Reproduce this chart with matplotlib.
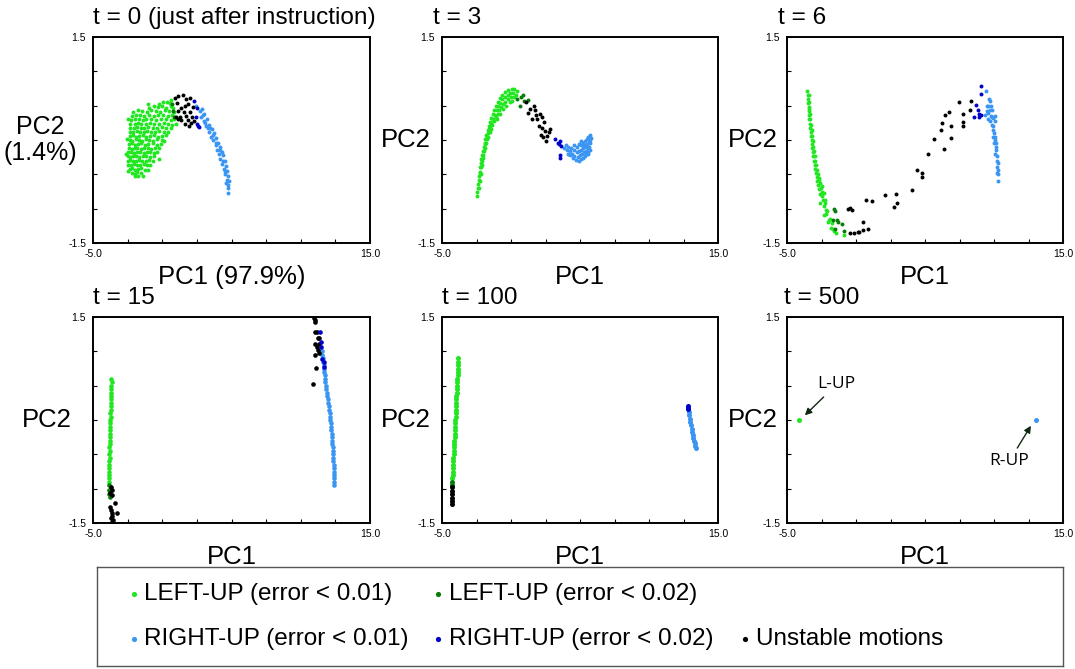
import matplotlib
matplotlib.use('Agg')
import matplotlib.pyplot as plt

plt.rcParams['font.family'] = ['Liberation Sans', 'DejaVu Sans']

LG = '#22e622'   # LEFT-UP (error < 0.01)
DG = '#0a7a0a'   # LEFT-UP (error < 0.02)
LB = '#3a96f2'   # RIGHT-UP (error < 0.01)
DB = '#0000c8'   # RIGHT-UP (error < 0.02)
K = 'black'      # unstable

titles = ['t = 0 (just after instruction)', 't = 3', 't = 6', 't = 15', 't = 100', 't = 500']
x_ticks = [-5, -2.5, 0, 2.5, 5, 7.5, 10, 12.5, 15]
x_ticklabels = ['-5.0', '', '', '', '', '', '', '', '15.0']
y_ticks = [-1.5, -1.0, -0.5, 0, 0.5, 1.0, 1.5]
y_ticklabels = ['-1.5', '', '', '', '', '', '1.5']

# ---- t = 0 ----
p1_lg = [(-0.25, 0.53), (0.05, 0.55), (0.32, 0.56), (0.55, 0.54),
         (-0.95, 0.47), (-0.6, 0.49), (-0.3, 0.48), (0.0, 0.49), (0.3, 0.47), (0.6, 0.5), (0.8, 0.46),
         (-2.1, 0.41), (-1.75, 0.43), (-1.45, 0.42), (-1.1, 0.41), (-0.8, 0.43), (-0.45, 0.42), (-0.15, 0.41), (0.2, 0.43), (0.5, 0.42), (0.85, 0.41),
         (-2.2, 0.35), (-1.9, 0.37), (-1.6, 0.36), (-1.3, 0.35), (-0.95, 0.37), (-0.6, 0.35), (-0.3, 0.36), (0.05, 0.37), (0.4, 0.35), (0.7, 0.36), (0.95, 0.34),
         (-2.25, 0.29), (-1.95, 0.31), (-1.7, 0.3), (-1.4, 0.29), (-1.15, 0.31), (-0.8, 0.3), (-0.45, 0.29), (-0.1, 0.31), (0.25, 0.3), (0.6, 0.29), (0.85, 0.3),
         (-2.3, 0.24), (-2.0, 0.23), (-1.75, 0.25), (-1.5, 0.24), (-1.2, 0.23), (-0.9, 0.25), (-0.6, 0.24), (-0.25, 0.23), (0.1, 0.25), (0.45, 0.24), (0.7, 0.22),
         (-2.3, 0.18), (-2.05, 0.17), (-1.8, 0.19), (-1.55, 0.18), (-1.3, 0.17), (-1.0, 0.19), (-0.7, 0.18), (-0.4, 0.17), (-0.05, 0.19), (0.3, 0.17), (0.6, 0.18),
         (-2.3, 0.12), (-2.1, 0.11), (-1.85, 0.13), (-1.6, 0.12), (-1.35, 0.11), (-1.1, 0.13), (-0.8, 0.12), (-0.5, 0.11), (-0.2, 0.13), (0.15, 0.12), (0.45, 0.11),
         (-2.35, 0.06), (-2.1, 0.07), (-1.9, 0.05), (-1.65, 0.06), (-1.4, 0.07), (-1.15, 0.05), (-0.9, 0.06), (-0.6, 0.07), (-0.3, 0.05), (0.0, 0.06), (0.3, 0.07),
         (-2.35, 0.0), (-2.15, -0.01), (-1.9, 0.01), (-1.7, 0.0), (-1.45, -0.01), (-1.2, 0.01), (-0.95, 0.0), (-0.65, -0.01), (-0.35, 0.01), (-0.05, 0.0), (0.1, -0.02),
         (-2.4, -0.06), (-2.2, -0.05), (-1.95, -0.07), (-1.75, -0.06), (-1.5, -0.05), (-1.25, -0.07), (-1.0, -0.06), (-0.7, -0.05), (-0.4, -0.07), (-0.1, -0.06),
         (-2.4, -0.12), (-2.2, -0.13), (-2.0, -0.11), (-1.8, -0.12), (-1.55, -0.13), (-1.3, -0.11), (-1.05, -0.12), (-0.8, -0.13), (-0.5, -0.11), (-0.25, -0.12),
         (-2.45, -0.18), (-2.25, -0.17), (-2.05, -0.19), (-1.85, -0.18), (-1.6, -0.17), (-1.35, -0.19), (-1.1, -0.18), (-0.85, -0.17), (-0.6, -0.19), (-0.4, -0.18),
         (-2.5, -0.24), (-2.3, -0.25), (-2.1, -0.23), (-1.9, -0.24), (-1.65, -0.25), (-1.4, -0.23), (-1.15, -0.24), (-0.9, -0.25), (-0.6, -0.23),
         (-2.5, -0.3), (-2.3, -0.29), (-2.1, -0.31), (-1.9, -0.3), (-1.7, -0.29), (-1.45, -0.31), (-1.2, -0.3), (-0.95, -0.29), (-0.7, -0.31),
         (-2.45, -0.36), (-2.25, -0.37), (-2.05, -0.35), (-1.85, -0.36), (-1.6, -0.37), (-1.35, -0.35), (-1.1, -0.36), (-0.9, -0.37),
         (-2.35, -0.42), (-2.15, -0.41), (-1.95, -0.43), (-1.75, -0.42), (-1.5, -0.41), (-1.25, -0.43),
         (-2.2, -0.48), (-2.0, -0.49), (-1.8, -0.47), (-1.55, -0.48), (-2.0, -0.53), (-1.75, -0.52),
         (-2.55, 0.02), (-2.6, -0.2), (-2.5, 0.3), (-1.05, 0.52), (0.65, 0.58), (1.0, 0.24), (-0.2, -0.27),
         (-1.05, -0.44), (-2.45, -0.45), (-1.4, -0.52)]
p1_dg = [(0.7, 0.52), (0.75, 0.42), (0.85, 0.33)]
p1_k = [(0.92, 0.61), (1.14, 0.64), (1.5, 0.66), (1.71, 0.6), (2.0, 0.61), (1.06, 0.54), (1.64, 0.5),
        (1.86, 0.52), (1.35, 0.47), (2.22, 0.48), (1.14, 0.42), (1.57, 0.41), (2.0, 0.41), (0.99, 0.33),
        (1.28, 0.33), (1.71, 0.35), (2.15, 0.33), (1.35, 0.29), (1.86, 0.29), (2.29, 0.28), (1.64, 0.23),
        (1.93, 0.2), (1.14, 0.31), (2.08, 0.25)]
p1_db = [(2.29, 0.57), (2.49, 0.46), (2.44, 0.34), (2.53, 0.23), (2.67, 0.19), (2.6, 0.21)]
p1_lb = [(2.45, 0.49), (2.7, 0.42), (2.85, 0.45), (3.05, 0.38), (2.8, 0.33), (3.0, 0.28), (3.2, 0.3),
         (3.15, 0.2), (3.35, 0.22), (3.4, 0.12), (3.6, 0.16), (3.55, 0.05), (3.75, 0.1), (3.7, 0.0),
         (3.9, 0.03), (3.85, -0.08), (4.05, -0.05), (3.95, -0.15), (4.15, -0.1), (4.1, -0.2), (4.3, -0.18),
         (4.2, -0.28), (4.4, -0.22), (4.3, -0.35), (4.5, -0.3), (4.45, -0.42), (4.6, -0.38), (4.55, -0.5),
         (4.7, -0.45), (4.65, -0.58), (4.75, -0.52), (4.6, -0.62), (4.72, -0.65), (4.8, -0.6), (4.75, -0.7),
         (4.76, -0.77), (3.3, 0.18), (3.65, 0.08), (3.9, -0.05), (4.2, -0.15), (4.4, -0.3), (4.55, -0.45),
         (3.1, 0.25), (3.45, 0.17), (2.95, 0.36)]

# ---- t = 3 ----
p2_lg = [(-2.46, -0.82), (-2.44, -0.76), (-2.4, -0.7), (-2.37, -0.64), (-2.33, -0.58), (-2.3, -0.52),
         (-2.26, -0.46), (-2.22, -0.4), (-2.18, -0.34), (-2.14, -0.28), (-2.08, -0.22), (-2.03, -0.16),
         (-1.97, -0.1), (-1.92, -0.04), (-1.85, 0.02), (-1.78, 0.08), (-1.7, 0.14), (-1.62, 0.2),
         (-1.52, 0.26), (-1.42, 0.32), (-1.32, 0.38), (-1.2, 0.44), (-1.08, 0.5), (-0.95, 0.56),
         (-0.8, 0.61), (-0.62, 0.66), (-0.42, 0.7), (-0.2, 0.73), (0.05, 0.75), (0.25, 0.74), (0.45, 0.71),
         (-2.22, -0.48), (-2.15, -0.4), (-2.08, -0.3), (-2.0, -0.22), (-1.9, -0.12), (-1.82, -0.04),
         (-1.72, 0.04), (-1.62, 0.12), (-1.52, 0.18), (-1.42, 0.25), (-1.3, 0.3), (-1.18, 0.37),
         (-1.05, 0.43), (-0.92, 0.49), (-0.78, 0.54), (-0.62, 0.59), (-0.45, 0.63), (-0.25, 0.66),
         (-0.05, 0.68), (0.15, 0.69), (0.35, 0.66),
         (-1.65, 0.05), (-1.55, 0.12), (-1.45, 0.16), (-1.35, 0.22), (-1.2, 0.28), (-1.1, 0.33),
         (-0.95, 0.38), (-0.85, 0.44), (-0.7, 0.48), (-0.55, 0.53), (-0.4, 0.56), (-0.2, 0.6), (0.0, 0.62),
         (0.2, 0.63), (-0.6, 0.45), (-0.35, 0.5), (-0.1, 0.55), (0.1, 0.57), (-1.0, 0.3), (-0.8, 0.38),
         (-2.35, -0.7), (-2.28, -0.6), (-2.2, -0.5), (-2.12, -0.36), (-2.05, -0.26), (-1.96, -0.16),
         (-1.87, -0.06), (-1.77, 0.02), (-1.67, 0.1), (-1.57, 0.16), (-1.47, 0.22)]
p2_dg = [(0.45, 0.6), (0.7, 0.62), (0.68, 0.5), (0.95, 0.57), (1.25, 0.58), (0.85, 0.66)]
p2_k = [(1.11, 0.56), (1.21, 0.4), (1.4, 0.45), (1.64, 0.49), (1.76, 0.43), (1.52, 0.3), (1.88, 0.3),
        (2.13, 0.38), (2.25, 0.33), (2.0, 0.21), (2.25, 0.18), (2.37, 0.26), (2.49, 0.13), (2.17, 0.07),
        (2.32, 0.04), (2.61, 0.06), (2.73, 0.11), (2.56, -0.01), (2.85, 0.16), (1.81, 0.36)]
p2_db = [(3.21, 0.01), (3.38, -0.04), (3.57, -0.01), (3.45, -0.06), (3.62, -0.09), (3.57, -0.22), (3.53, -0.26)]
p2_lb = [(3.85, -0.12), (3.95, -0.08), (4.05, -0.14), (4.15, -0.1), (4.1, -0.2), (4.25, -0.16), (4.35, -0.12),
         (4.3, -0.22), (4.45, -0.2), (4.5, -0.26), (4.6, -0.14), (4.6, -0.24), (4.7, -0.29), (4.75, -0.18),
         (4.8, -0.1), (4.85, -0.25), (4.9, -0.3), (4.95, -0.16), (5.0, -0.22), (5.05, -0.08), (5.05, -0.28),
         (5.1, -0.14), (5.15, -0.2), (5.2, -0.26), (5.2, -0.05), (5.25, -0.12), (5.3, -0.18), (5.35, -0.02),
         (5.35, -0.24), (5.4, -0.1), (5.45, -0.16), (5.5, 0.02), (5.5, -0.06), (5.55, -0.12), (5.55, -0.2),
         (5.6, 0.05), (5.65, -0.02), (5.65, -0.1), (5.7, 0.08), (5.7, -0.05), (5.75, 0.0), (5.8, 0.03),
         (5.75, -0.15), (5.6, -0.17), (5.4, -0.2), (5.3, -0.08), (5.1, -0.02), (4.9, -0.06), (4.55, -0.08)]

# ---- t = 6 ----
p3_lg = [(-3.52, 0.72), (-3.5, 0.66), (-3.48, 0.6), (-3.46, 0.54), (-3.44, 0.48), (-3.42, 0.42), (-3.4, 0.36),
         (-3.37, 0.3), (-3.34, 0.24), (-3.31, 0.18), (-3.28, 0.12), (-3.25, 0.06), (-3.22, 0.0), (-3.19, -0.06),
         (-3.16, -0.12), (-3.13, -0.18), (-3.09, -0.24), (-3.05, -0.3), (-3.0, -0.36), (-2.96, -0.42),
         (-2.91, -0.48), (-2.86, -0.54), (-2.8, -0.6), (-2.74, -0.66), (-2.67, -0.72), (-2.6, -0.78),
         (-3.42, 0.65), (-3.4, 0.55), (-3.37, 0.45), (-3.33, 0.38), (-3.3, 0.3), (-3.26, 0.22), (-3.22, 0.14),
         (-3.18, 0.06), (-3.14, -0.02), (-3.1, -0.1), (-3.05, -0.16), (-3.0, -0.24), (-2.95, -0.3),
         (-2.88, -0.36), (-2.82, -0.44), (-2.75, -0.5), (-2.68, -0.56), (-2.6, -0.62), (-2.52, -0.7),
         (-2.45, -0.76), (-2.71, -0.58), (-2.47, -0.67), (-2.35, -0.77), (-2.23, -0.87), (-2.59, -0.92),
         (-2.3, -0.96), (-2.11, -1.04), (-2.35, -1.09), (-1.99, -1.16), (-1.75, -1.21), (-1.82, -1.28),
         (-1.67, -1.3), (-0.85, -1.38), (-2.5, -0.82), (-2.4, -0.88), (-2.25, -0.92), (-2.2, -1.02),
         (-2.15, -1.08), (-1.9, -1.15), (-2.0, -1.2), (-1.6, -1.33), (-1.45, -1.36)]
p3_dg = [(-1.58, -1.0), (-1.51, -1.04), (-1.67, -1.16), (-1.39, -1.17), (-1.34, -1.2), (-1.02, -1.23),
         (-0.9, -1.33), (-1.51, -1.3)]
p3_k = [(-0.61, -1.0), (-0.42, -0.99), (-0.3, -1.02), (-0.42, -1.35), (-0.18, -1.36), (0.11, -1.34),
        (0.23, -1.34), (0.54, -1.31), (0.9, -1.3), (0.54, -1.2), (0.74, -0.88), (1.19, -0.89), (2.09, -0.8),
        (2.9, -0.78), (2.76, -0.97), (2.95, -0.92), (4.09, -0.73), (4.45, -0.43), (4.81, -0.48),
        (4.81, -0.54), (5.24, -0.21), (5.65, 0.02), (6.4, -0.13), (6.13, 0.14), (6.88, 0.03), (6.21, 0.25),
        (6.88, 0.2), (6.47, 0.37), (6.76, 0.41), (7.72, 0.2), (7.77, 0.26), (7.48, 0.56), (8.35, 0.57),
        (8.26, 0.43), (7.77, 0.38)]
p3_db = [(9.05, 0.79), (9.07, 0.67), (8.69, 0.51), (8.86, 0.43), (8.93, 0.38), (8.91, 0.34), (8.57, 0.34), (9.03, 0.37)]
p3_lb = [(9.41, 0.72), (9.65, 0.6), (9.7, 0.57), (9.34, 0.37), (9.46, 0.49), (9.58, 0.39), (9.7, 0.44),
         (9.82, 0.34), (9.94, 0.32), (10.06, 0.27), (9.89, 0.44), (9.94, 0.15), (10.06, 0.05), (10.13, -0.04),
         (10.18, -0.14), (10.23, -0.24), (10.26, -0.33), (10.28, -0.43), (10.3, -0.5), (10.3, -0.59),
         (9.55, 0.3), (9.7, 0.28), (9.85, 0.22), (9.95, 0.2), (10.0, 0.1), (9.9, 0.05), (10.1, 0.0),
         (10.0, -0.05), (10.15, -0.1), (10.1, -0.2), (10.2, -0.3), (10.2, -0.4), (10.25, -0.48),
         (9.6, 0.5), (9.8, 0.5), (9.5, 0.42), (9.75, 0.35), (10.05, 0.35)]

# ---- t = 15 ----
p4_lg = [(-3.68, 0.6), (-3.66, 0.55), (-3.69, 0.5), (-3.67, 0.45), (-3.7, 0.4), (-3.68, 0.35), (-3.71, 0.3),
         (-3.69, 0.25), (-3.73, 0.2), (-3.71, 0.15), (-3.74, 0.1), (-3.72, 0.05), (-3.76, 0.0), (-3.74, -0.05),
         (-3.77, -0.1), (-3.75, -0.15), (-3.78, -0.2), (-3.76, -0.25), (-3.8, -0.3), (-3.78, -0.35),
         (-3.81, -0.4), (-3.79, -0.45), (-3.82, -0.5), (-3.8, -0.55), (-3.83, -0.6), (-3.81, -0.65),
         (-3.84, -0.7), (-3.82, -0.75), (-3.85, -0.8), (-3.83, -0.85), (-3.85, -0.9)]
p4_dg = [(-3.83, -0.95), (-3.82, -1.02), (-3.84, -1.08), (-3.8, -1.12)]
p4_k = [(-3.68, -0.98), (-3.61, -1.02), (-3.75, -1.06), (-3.66, -1.09), (-3.44, -1.21), (-3.75, -1.26),
        (-3.61, -1.35), (-3.28, -1.35), (-3.63, -1.4), (-3.68, -1.43), (-3.56, -1.45), (-3.61, -1.48),
        (-3.73, -1.31), (10.93, 1.48), (11.05, 1.45), (11.0, 1.43), (11.17, 1.28), (11.0, 1.28),
        (11.24, 1.19), (11.33, 1.2), (11.29, 1.11), (11.05, 1.11), (11.0, 0.94), (11.29, 0.97),
        (11.09, 0.76), (10.88, 0.52), (11.14, 1.06), (11.24, 1.02)]
p4_db = [(11.36, 1.28), (11.45, 1.14), (11.45, 1.06), (11.53, 0.89), (11.65, 0.85), (11.67, 0.77)]
p4_lb = [(11.53, 1.0), (11.55, 0.95), (11.58, 0.9), (11.62, 0.85), (11.65, 0.8), (11.68, 0.75), (11.7, 0.7),
         (11.73, 0.65), (11.75, 0.6), (11.78, 0.55), (11.8, 0.5), (11.84, 0.45), (11.88, 0.4), (11.92, 0.35),
         (11.96, 0.3), (12.0, 0.25), (12.03, 0.2), (12.06, 0.15), (12.09, 0.1), (12.11, 0.05), (12.13, 0.0),
         (12.16, -0.05), (12.19, -0.1), (12.21, -0.15), (12.23, -0.2), (12.25, -0.25), (12.27, -0.3),
         (12.29, -0.35), (12.31, -0.4), (12.33, -0.45), (12.34, -0.5), (12.35, -0.55), (12.36, -0.6),
         (12.37, -0.65), (12.38, -0.7), (12.39, -0.75), (12.4, -0.8), (12.4, -0.85), (12.41, -0.9), (12.41, -0.94)]

# ---- t = 100 ----
p5_lg = [(-3.81, 0.9), (-3.82, 0.85), (-3.83, 0.8), (-3.85, 0.75), (-3.86, 0.7), (-3.87, 0.65), (-3.88, 0.6),
         (-3.9, 0.55), (-3.91, 0.5), (-3.92, 0.45), (-3.93, 0.4), (-3.95, 0.35), (-3.96, 0.3), (-3.97, 0.25),
         (-3.98, 0.2), (-4.0, 0.15), (-4.01, 0.1), (-4.02, 0.05), (-4.03, 0.0), (-4.05, -0.05), (-4.06, -0.1),
         (-4.07, -0.15), (-4.08, -0.2), (-4.09, -0.25), (-4.1, -0.3), (-4.12, -0.35), (-4.13, -0.4),
         (-4.14, -0.45), (-4.15, -0.5), (-4.17, -0.55), (-4.18, -0.6), (-4.19, -0.65), (-4.2, -0.7),
         (-4.22, -0.75), (-4.23, -0.8), (-4.24, -0.85)]
p5_dg = [(-4.25, -0.9), (-4.26, -0.94)]
p5_k = [(-4.26, -0.98), (-4.27, -1.03), (-4.28, -1.08), (-4.28, -1.13), (-4.29, -1.18), (-4.29, -1.23)]
p5_db = [(12.8, 0.2), (12.84, 0.18), (12.86, 0.16)]
p5_lb = [(12.88, 0.12), (12.92, 0.07), (12.96, 0.02), (13.0, -0.03), (13.04, -0.08), (13.08, -0.13),
         (13.12, -0.18), (13.16, -0.22), (13.2, -0.26), (13.25, -0.3), (13.3, -0.34), (13.35, -0.38), (13.42, -0.41)]

# ---- t = 500 ----
p6_lg = [(-4.11, 0.0)]
p6_lb = [(13.03, 0.0)]

panels = [
    [(p1_lg, LG), (p1_lb, LB), (p1_dg, DG), (p1_k, K), (p1_db, DB)],
    [(p2_lg, LG), (p2_lb, LB), (p2_dg, DG), (p2_k, K), (p2_db, DB)],
    [(p3_lg, LG), (p3_lb, LB), (p3_dg, DG), (p3_k, K), (p3_db, DB)],
    [(p4_lg, LG), (p4_lb, LB), (p4_dg, DG), (p4_k, K), (p4_db, DB)],
    [(p5_lg, LG), (p5_lb, LB), (p5_dg, DG), (p5_k, K), (p5_db, DB)],
    [(p6_lg, LG), (p6_lb, LB)],
]
marker_sizes = [8, 8, 8, 11, 13, 13]

fig = plt.figure(figsize=(10.75, 6.69), dpi=100)

W, H = 1075.0, 669.0
lefts = [93, 442, 787]
widths = [277, 276, 276]
bottoms = [243, 523]
ylab_x = [[-0.19, -0.13, -0.123], [-0.166, -0.13, -0.123]]
title_x = [[0.0, -0.033, -0.033], [0.0, 0.0, -0.01]]

axes = []
for i in range(6):
    r, c = divmod(i, 3)
    ax = fig.add_axes([lefts[c] / W, 1 - bottoms[r] / H, widths[c] / W, 206 / H])
    axes.append(ax)
    for data, color in panels[i]:
        ax.scatter([p[0] for p in data], [p[1] for p in data], s=marker_sizes[i], c=color,
                   linewidths=0, zorder=3)
    ax.set_xlim(-5, 15)
    ax.set_ylim(-1.5, 1.5)
    ax.set_xticks(x_ticks)
    ax.set_xticklabels(x_ticklabels)
    ax.set_yticks(y_ticks)
    ax.set_yticklabels(y_ticklabels)
    ax.tick_params(direction='in', length=3, width=0.8, labelsize=7.5)
    ax.tick_params(axis='x', pad=4)
    ax.tick_params(axis='y', pad=5)
    for sp in ax.spines.values():
        sp.set_linewidth(1.4)
    ax.text(title_x[r][c], 1.092, titles[i], transform=ax.transAxes,
            ha='left', va='center', fontsize=17.6)
    if i == 0:
        ax.set_xlabel('PC1 (97.9%)', fontsize=18.5)
        ax.set_ylabel('PC2\n(1.4%)', fontsize=18, rotation=0, ha='center', va='center',
                      linespacing=1.1)
    else:
        ax.set_xlabel('PC1', fontsize=18.5)
        ax.set_ylabel('PC2', fontsize=18.5, rotation=0, ha='center', va='center')
    ax.xaxis.set_label_coords(0.5, -0.107)
    ax.yaxis.set_label_coords(ylab_x[r][c], 0.5)

ax6 = axes[5]
ax6.annotate('L-UP', xy=(-3.85, 0.04), xytext=(-1.4, 0.52), fontsize=12.5, family='Open Sans',
             ha='center', va='center',
             arrowprops=dict(arrowstyle='-|>', color='#102810', lw=1.0, mutation_scale=10))
ax6.annotate('R-UP', xy=(12.78, -0.05), xytext=(11.1, -0.6), fontsize=12.5, family='Open Sans',
             ha='center', va='center',
             arrowprops=dict(arrowstyle='-|>', color='#102810', lw=1.0, mutation_scale=10))

# legend box
legend_labels = ['LEFT-UP (error < 0.01)', 'LEFT-UP (error < 0.02)',
                 'RIGHT-UP (error < 0.01)', 'RIGHT-UP (error < 0.02)', 'Unstable motions']
legend_colors = [LG, DG, LB, DB, K]
legend_pos = [(0.038, 0.73), (0.353, 0.73), (0.038, 0.27), (0.353, 0.27), (0.671, 0.27)]

lax = fig.add_axes([97 / W, 1 - 666 / H, 966 / W, 99 / H])
lax.set_xlim(0, 1)
lax.set_ylim(0, 1)
lax.set_xticks([])
lax.set_yticks([])
for sp in lax.spines.values():
    sp.set_linewidth(1.0)
    sp.set_color('#555555')
for lab, col, (lx, ly) in zip(legend_labels, legend_colors, legend_pos):
    lax.scatter([lx], [ly], s=14, c=col, linewidths=0)
    lax.text(lx + 0.011, ly, lab, fontsize=17.5, ha='left', va='center')

fig.savefig('out.png', dpi=100)
